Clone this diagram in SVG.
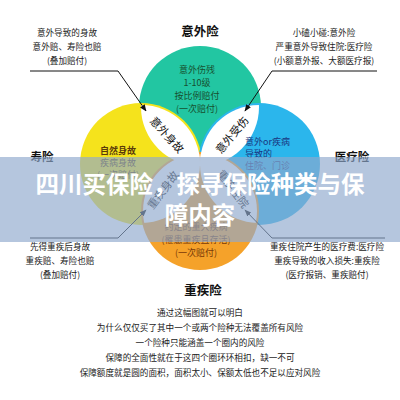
<svg xmlns="http://www.w3.org/2000/svg" width="400" height="400" viewBox="0 0 400 400">
<style>
text{font-family:"Noto Sans CJK SC","Noto Sans",sans-serif;text-anchor:middle}
.ann{font-size:8.6px;fill:#222}
.ttl{font-size:12.5px;font-weight:bold;fill:#111}
.lens{font-size:11px;fill:#111}
.tg{font-size:9px;fill:#17502f}
.ty{font-size:9px;fill:#5a3a0a}
.tb{font-size:9px;fill:#1a3580;text-anchor:start}
.to{font-size:9px;fill:#7a3a08}
.lead{fill:none;stroke:#111;stroke-width:1}
.banner{font-size:23.5px;font-weight:bold;fill:#fff}
</style>
<defs>
<marker id="ah" viewBox="0 0 10 10" refX="9" refY="5" markerWidth="7" markerHeight="7" orient="auto">
<path d="M0,1 L10,5 L0,9 z" fill="#111"/>
</marker>
<clipPath id="cT"><circle cx="200" cy="107" r="59"/></clipPath>
<clipPath id="cB"><circle cx="200" cy="211" r="57"/></clipPath>
</defs>
<rect width="400" height="400" fill="#fff"/>

<g id="circles">
<circle id="c-top" cx="200" cy="107" r="61" fill="#22c6a2"/>
<circle id="c-left" cx="141" cy="164" r="61" fill="#f5e31c"/>
<circle id="c-right" cx="259" cy="164" r="61" fill="#2bb6ec"/>
<circle id="c-bottom" cx="200" cy="211" r="59" fill="#f5a22a"/>
</g>
<g id="lenses" fill="#fff">
<circle clip-path="url(#cT)" cx="141" cy="164" r="59"/>
<circle clip-path="url(#cT)" cx="259" cy="164" r="59"/>
<circle clip-path="url(#cB)" cx="141" cy="164" r="59"/>
<circle clip-path="url(#cB)" cx="259" cy="164" r="59"/>
</g>

<g id="node-top">
<text class="ttl" x="200" y="36">意外险</text>
<text class="tg" x="197" y="73">意外伤残</text>
<text class="tg" x="197" y="86">1-10级</text>
<text class="tg" x="197" y="99">按比例赔付</text>
<text class="tg" x="197" y="112">(一次赔付)</text>
</g>
<g id="node-left">
<text class="ttl" x="42" y="161" style="font-size:11.5px">寿险</text>
<text class="ty" x="118" y="154" style="font-weight:bold">自然身故</text>
<text class="ty" x="118" y="166">疾病身故</text>
<text class="ty" x="118" y="178">(一次赔付)</text>
</g>
<g id="node-right">
<text class="ttl" x="352" y="161" style="font-size:11.5px">医疗险</text>
<text class="tb" x="245" y="145">意外or疾病</text>
<text class="tb" x="245" y="157">导致的</text>
<text class="tb" x="245" y="169">住院、门诊</text>
</g>
<g id="node-bottom">
<text class="ttl" x="203" y="295">重疾险</text>
<text class="to" x="196" y="230">约定的重大疾病</text>
<text class="to" x="196" y="243">(罹患重疾且存活)</text>
<text class="to" x="196" y="256">(一次赔付)</text>
</g>
<g id="lens-labels">
<text class="lens" transform="translate(167,135) rotate(48)" y="4">意外身故</text>
<text class="lens" transform="translate(232,135) rotate(-50)" y="4">意外受伤</text>
<text class="lens" transform="translate(163,190) rotate(-53)" y="4">重疾身故</text>
<text class="lens" transform="translate(233,189) rotate(53)" y="4">重疾住院</text>
</g>

<g id="connectors">
<path class="lead" d="M30,71 H118 L146,111" marker-end="url(#ah)"/>
<path class="lead" d="M377,71 H272 L245,111" marker-end="url(#ah)"/>
<path class="lead" d="M30,238 H118 L146,210" marker-end="url(#ah)"/>
<path class="lead" d="M385,238 H272 L245,210" marker-end="url(#ah)"/>
</g>

<g id="ann-tl">
<text class="ann" x="67" y="36">意外导致的身故</text>
<text class="ann" x="67" y="50">意外赔、寿险也赔</text>
<text class="ann" x="67" y="64">(叠加赔付)</text>
</g>
<g id="ann-tr">
<text class="ann" x="324" y="36">小磕小碰:意外险</text>
<text class="ann" x="324" y="50">严重意外导致住院:医疗险</text>
<text class="ann" x="324" y="64">(小额意外报、大额医疗报)</text>
</g>
<g id="ann-bl">
<text class="ann" x="60" y="250">先得重疾后身故</text>
<text class="ann" x="60" y="264">重疾赔、寿险也赔</text>
<text class="ann" x="60" y="278">(叠加赔付)</text>
</g>
<g id="ann-br">
<text class="ann" x="327" y="250">重疾住院产生的医疗费:医疗险</text>
<text class="ann" x="327" y="264">重疾导致的收入损失:重疾险</text>
<text class="ann" x="327" y="278">(医疗报销、重疾赔付)</text>
</g>

<g id="summary">
<text class="ann" x="200" y="316">通过这幅图就可以明白</text>
<text class="ann" x="200" y="331">为什么仅仅买了其中一个或两个险种无法覆盖所有风险</text>
<text class="ann" x="200" y="346">一个险种只能涵盖一个圈内的风险</text>
<text class="ann" x="200" y="361">保障的全面性就在于这四个圈环环相扣，缺一不可</text>
<text class="ann" x="200" y="376">保障额度就是圆的面积，面积太小、保额太低也不足以应对风险</text>
</g>

<g id="banner">
<rect x="0" y="157" width="400" height="85" fill="#8ea8cd" fill-opacity="0.66"/>
<text class="banner" x="200" y="193">四川买保险，探寻保险种类与保</text>
<text class="banner" x="200" y="224">障内容</text>
</g>
</svg>
